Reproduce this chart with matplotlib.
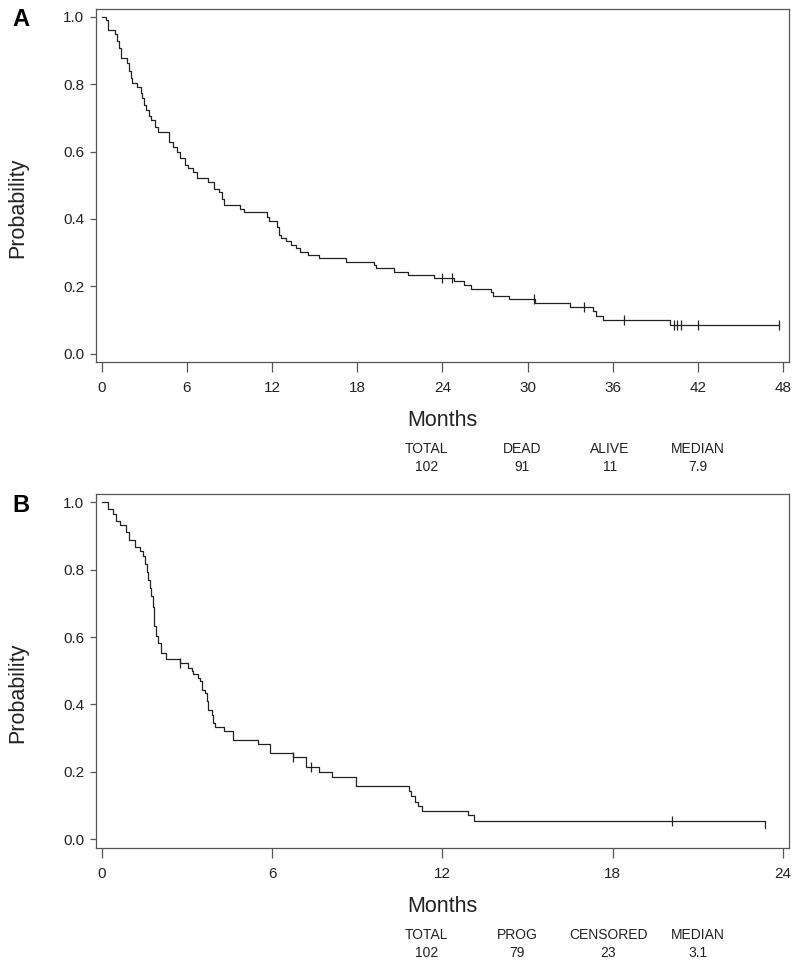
import matplotlib
matplotlib.use("Agg")
import matplotlib.pyplot as plt
import numpy as np

plt.rcParams['font.family'] = ['Liberation Sans', 'DejaVu Sans']

# Panel A: overall survival (event times in months, survival after each step)
a_times = [0.33, 0.45, 0.92, 1.05, 1.2, 1.39, 1.79, 1.95, 2.05, 2.16, 2.46, 2.75, 2.85,
           3.0, 3.15, 3.3, 3.5, 3.74, 3.98, 4.71, 5.0, 5.3, 5.5, 5.85, 6.1, 6.4, 6.7,
           7.5, 7.9, 8.26, 8.45, 8.6, 9.74, 10.05, 11.62, 11.8, 12.38, 12.5, 12.6,
           12.96, 13.36, 13.66, 14.0, 14.52, 15.3, 17.22, 19.2, 19.3, 20.6, 21.6,
           23.4, 24.85, 25.55, 26.0, 27.4, 27.6, 28.7, 30.5, 33.0, 34.6, 34.8, 35.3,
           40.05]
a_surv = [0.99, 0.96, 0.95, 0.929, 0.909, 0.879, 0.864, 0.839, 0.818, 0.803, 0.793,
          0.773, 0.758, 0.738, 0.723, 0.707, 0.694, 0.673, 0.657, 0.630, 0.615, 0.600,
          0.580, 0.560, 0.550, 0.540, 0.521, 0.510, 0.490, 0.479, 0.460, 0.442, 0.430,
          0.420, 0.405, 0.393, 0.375, 0.353, 0.343, 0.333, 0.323, 0.313, 0.303, 0.293,
          0.283, 0.273, 0.264, 0.254, 0.243, 0.234, 0.224, 0.214, 0.205, 0.192, 0.182,
          0.170, 0.161, 0.150, 0.138, 0.125, 0.112, 0.101, 0.084]
a_censor = [24.0, 24.7, 30.45, 34.0, 36.8, 40.3, 40.5, 40.8, 42.0, 47.7]

# Panel B: progression-free survival
b_times = [0.22, 0.40, 0.50, 0.66, 0.85, 0.97, 1.16, 1.34, 1.46, 1.54, 1.60, 1.64,
           1.70, 1.75, 1.81, 1.83, 1.85, 1.93, 2.00, 2.08, 2.28, 2.75, 3.05, 3.17,
           3.23, 3.40, 3.47, 3.52, 3.64, 3.70, 3.75, 3.87, 3.93, 3.99, 4.31, 4.63,
           5.52, 5.93, 6.75, 7.2, 7.67, 8.1, 8.97, 10.81, 10.9, 11.05, 11.15, 11.28,
           12.9, 13.13, 23.38]
b_surv = [0.98, 0.965, 0.943, 0.932, 0.91, 0.886, 0.866, 0.856, 0.841, 0.815, 0.792,
          0.77, 0.745, 0.722, 0.69, 0.66, 0.633, 0.603, 0.583, 0.554, 0.534, 0.524,
          0.509, 0.499, 0.489, 0.479, 0.469, 0.444, 0.434, 0.41, 0.385, 0.37, 0.345,
          0.332, 0.32, 0.296, 0.283, 0.256, 0.244, 0.216, 0.201, 0.186, 0.159, 0.145,
          0.13, 0.112, 0.098, 0.084, 0.072, 0.055, 0.033]
b_censor = [2.75, 6.75, 7.36, 20.1]

a_heads = ['TOTAL', 'DEAD', 'ALIVE', 'MEDIAN']
a_vals = ['102', '91', '11', '7.9']
b_heads = ['TOTAL', 'PROG', 'CENSORED', 'MEDIAN']
b_vals = ['102', '79', '23', '3.1']

W, H = 800, 967
fig = plt.figure(figsize=(8, 9.67), dpi=100)
line_c = '#222222'
spine_c = '#555555'


def px(x, y):
    return x / W, 1 - y / H


def km_panel(top, bottom, times, surv, censor, xmax, xticks, letter, heads, vals, head_x):
    ax = fig.add_axes([96 / W, 1 - bottom / H, 693 / W, (bottom - top) / H])
    t = np.concatenate([[0], times])
    s = np.concatenate([[1.0], surv])
    last = censor[-1] if censor[-1] > t[-1] else t[-1]
    tt = np.append(t, last) if last > t[-1] else t
    ss = np.append(s, s[-1]) if last > t[-1] else s
    ax.step(tt, ss, where='post', color=line_c, lw=0.9)
    idx = np.searchsorted(t, censor, side='right') - 1
    ax.plot(censor, s[idx], ls='none', marker='|', ms=7, mew=0.9, color=line_c)

    ppm = 682 / xmax
    ax.set_xlim(-5.7 / ppm, xmax + 6 / ppm)
    ax.set_ylim(-8.5 / 337, 1 + 8 / 337)
    ax.set_xticks(xticks)
    ax.set_yticks([0, 0.2, 0.4, 0.6, 0.8, 1.0])
    ax.set_yticklabels(['0.0', '0.2', '0.4', '0.6', '0.8', '1.0'])
    for sp in ax.spines.values():
        sp.set_color(spine_c)
        sp.set_linewidth(0.9)
    ax.tick_params(axis='x', length=7, width=0.9, color=spine_c, pad=7,
                   labelsize=11, labelcolor='#222222')
    ax.tick_params(axis='y', length=4.5, width=0.9, color=spine_c, pad=4,
                   labelsize=11, labelcolor='#222222')

    x, y = px(21, top + 11)
    fig.text(x, y, letter, fontsize=17, fontweight='bold', ha='center', va='center')
    x, y = px(18, (top + bottom) / 2 + 22)
    fig.text(x, y, 'Probability', fontsize=15.5, rotation=90, ha='center', va='center',
             color='#222222')
    x, y = px(442.5, bottom + 58)
    fig.text(x, y, 'Months', fontsize=15.5, ha='center', va='center', color='#222222')
    for hx, hd, v in zip(head_x, heads, vals):
        x, y = px(hx, bottom + 87)
        fig.text(x, y, hd, fontsize=10, ha='center', va='center', color='#222222')
        x, y = px(hx, bottom + 105)
        fig.text(x, y, v, fontsize=10, ha='center', va='center', color='#222222')
    return ax


km_panel(9, 362, a_times, a_surv, a_censor, 48, [0, 6, 12, 18, 24, 30, 36, 42, 48],
         'A', a_heads, a_vals, [426.7, 521.7, 610, 698.3])
km_panel(494, 848, b_times, b_surv, b_censor, 24, [0, 6, 12, 18, 24],
         'B', b_heads, b_vals, [426.7, 517.3, 608.3, 698.3])

fig.savefig('out.png', dpi=100)
